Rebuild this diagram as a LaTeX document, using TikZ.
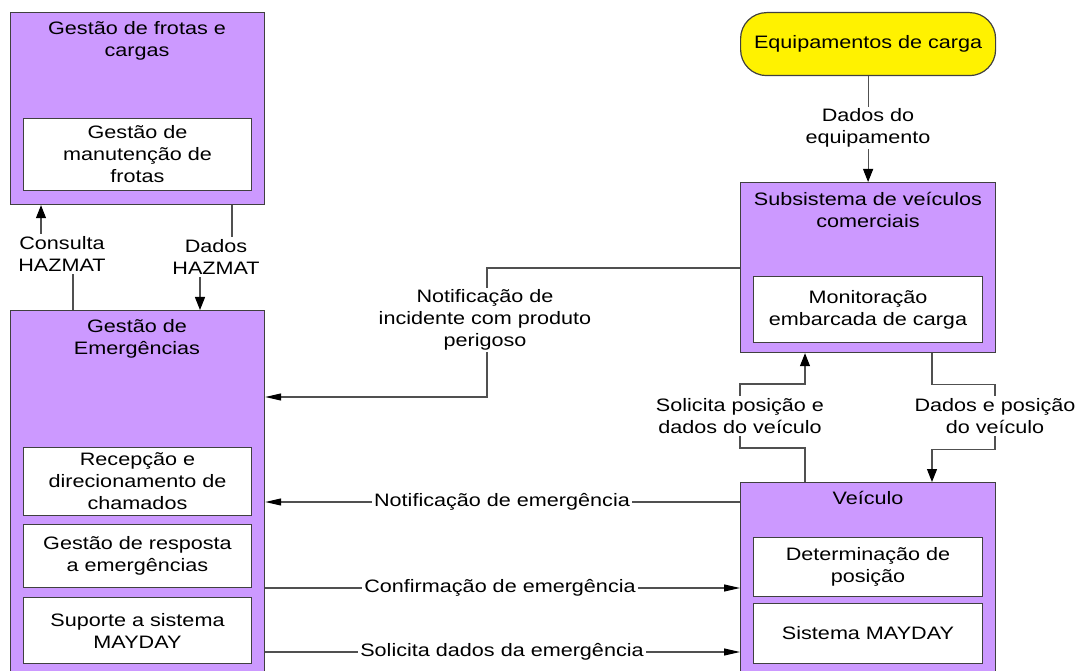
\documentclass[tikz,border=0pt]{standalone}
\usepackage{fontspec}
\setmainfont[FakeStretch=1.2]{Liberation Sans}
\usetikzlibrary{arrows.meta,calc}
\definecolor{lav}{RGB}{204,153,255}
\definecolor{edge}{RGB}{64,64,64}
\definecolor{wire}{RGB}{80,80,80}
\tikzset{
  base/.style={font=\fontsize{18}{22}\selectfont, align=center},
  outerbox/.style={draw=edge, line width=1.2pt, fill=lav, anchor=north west, inner sep=0pt},
  innerbox/.style={base, draw=edge, line width=1pt, fill=white, anchor=north west, inner sep=0pt},
  ext/.style={base, draw=edge, line width=1.2pt, fill=yellow, anchor=north west, rounded corners=26pt, inner sep=0pt},
  title/.style={base},
  lbl/.style={base, fill=white, inner sep=2pt},
  wireline/.style={draw=wire, line width=1.1pt},
  varr/.style={wireline, -{Triangle[length=13pt,width=10pt,black]}},
  harr/.style={wireline, -{Triangle[length=16pt,width=7pt,black]}}
}
\begin{document}
\begin{tikzpicture}[x=1pt,y=-1pt]
\useasboundingbox (0,0) rectangle (1080,671);
\clip (0,0) rectangle (1080,671);

% --- outer subsystems ---
\node[outerbox, minimum width=254, minimum height=192] (A) at (10,12) {};
\node[outerbox, minimum width=254, minimum height=380] (B) at (10,310) {};
\node[outerbox, minimum width=255, minimum height=170] (D) at (740,182) {};
\node[outerbox, minimum width=255, minimum height=200] (V) at (740,482) {};
\node[ext, minimum width=255, minimum height=63] (C) at (740,12) {Equipamentos de carga};

% --- titles ---
\node[title] (Atitle) at (137,41) {Gestão de frotas e\\cargas};
\node[title] (Btitle) at (137,339) {Gestão de\\Emergências};
\node[title] (Dtitle) at (868,210) {Subsistema de veículos\\comerciais};
\node[title] (Vtitle) at (868,498) {Veículo};

% --- inner functions ---
\node[innerbox, minimum width=228, minimum height=72] (A1) at (23,118) {Gestão de\\manutenção de\\frotas};
\node[innerbox, minimum width=228, minimum height=68] (B1) at (23,447) {Recepção e\\direcionamento de\\chamados};
\node[innerbox, minimum width=228, minimum height=63] (B2) at (23,524) {Gestão de resposta\\a emergências};
\node[innerbox, minimum width=228, minimum height=66] (B3) at (23,597) {Suporte a sistema\\MAYDAY};
\node[innerbox, minimum width=229, minimum height=66] (D1) at (753,276) {Monitoração\\embarcada de carga};
\node[innerbox, minimum width=229, minimum height=59] (V1) at (753,537) {Determinação de\\posição};
\node[innerbox, minimum width=229, minimum height=60] (V2) at (753,603) {Sistema MAYDAY};

% --- connectors ---
\draw[varr] ([xshift=63]B.north west) -- ++(0,-60) -| ([xshift=31]A.south west);
\draw[varr] ([xshift=222]A.south west) -- ++(0,50) -| ([xshift=190]B.north west);
\draw[varr] (C.south) -- (D.north);
\coordinate (ni) at (487,397);
\draw[harr] ([yshift=-86]D.north west) -| (ni) -- (ni -| B.east);
\draw[varr] ([xshift=65]V.north west) -- ++(0,-34) -- ++(-65,0) -- ++(0,-64) -- ++(65,0) -- ([xshift=65]D.south west);
\draw[varr] ([xshift=192]D.south west) -- ++(0,31) -- ++(63,0) -- ++(0,65) -- ++(-63,0) -- ([xshift=192]V.north west);
\coordinate (ne) at ([yshift=-20]V.north west);
\draw[harr] (ne) -- (ne -| B.east);
\coordinate (ce) at ([yshift=-106]V.north west);
\draw[harr] (ce -| B.east) -- (ce);
\coordinate (se) at ([yshift=-170]V.north west);
\draw[harr] (se -| B.east) -- (se);

% --- connector labels ---
\node[lbl] (l1) at (62,254) {Consulta\\HAZMAT};
\node[lbl] (l2) at (216,257) {Dados\\HAZMAT};
\node[lbl] (l3) at (868,128) {Dados do\\equipamento};
\node[lbl] (l4) at (485,320) {Notificação de\\incidente com produto\\perigoso};
\node[lbl] (l5) at (740,416) {Solicita posição e\\dados do veículo};
\node[lbl] (l6) at (995,416) {Dados e posição\\do veículo};
\node[lbl] (l7) at (502,502) {Notificação de emergência};
\node[lbl] (l8) at (500,588) {Confirmação de emergência};
\node[lbl] (l9) at (502,652) {Solicita dados da emergência};
\end{tikzpicture}
\end{document}
